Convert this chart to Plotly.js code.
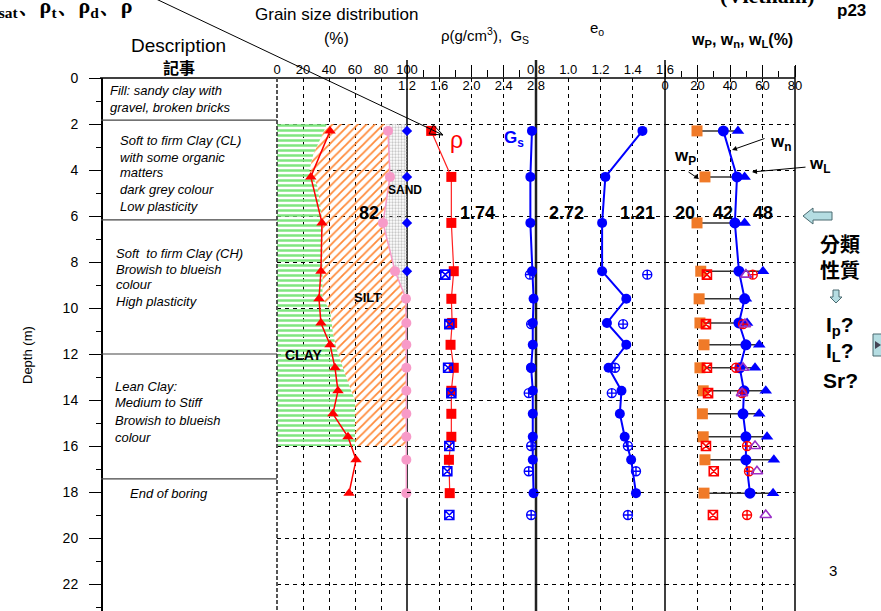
<!DOCTYPE html>
<html><head><meta charset="utf-8">
<script src="https://cdn.plot.ly/plotly-3.0.1.min.js"></script>
<style>html,body{margin:0;padding:0;background:#fff}#chart{width:881px;height:611px}</style>
</head><body><div id="chart"></div>
<script>
const W = 881, H = 611;
const F = 'Arial, "Liberation Sans", sans-serif';
const FS = '"Liberation Serif", "Times New Roman", serif';
const FCJK = '"Noto Sans CJK TC", "Noto Sans CJK JP", sans-serif';

// ---------- data ----------
const depth    = [2.3, 4.3, 6.3, 8.4, 9.6, 10.65, 11.6, 12.6, 13.6, 14.6, 15.6, 16.6, 18.05];
const clayPct  = [40.8, 26, 34.6, 33.8, 32.3, 33.8, 40.8, 44.6, 46.9, 43, 54.6, 60.8, 55.4];
const finesPct = [85.4, 86.9, 81.5, 90.8, 99.2, 99.5, 99.5, 99.5, 99.5, 99.5, 99.5, 99.5, 99.5];
const totalDepth = [2.3, 4.3, 6.3, 8.4];
const totalPct   = [100, 100, 100, 100];
const rho = [1.50, 1.75, 1.75, 1.78, 1.75, 1.76, 1.74, 1.78, 1.75, 1.75, 1.75, 1.72, 1.73];
const gs  = [2.75, 2.73, 2.73, 2.75, 2.77, 2.76, 2.76, 2.74, 2.76, 2.76, 2.76, 2.76, 2.77];
const e0  = [1.46, 1.23, 1.21, 1.21, 1.36, 1.24, 1.36, 1.25, 1.33, 1.32, 1.35, 1.39, 1.42];
const wP  = [19.7, 24.6, 19.7, 22, 21, 21.5, 24, 21.5, 23.5, 23, 23.5, 24.6, 24];
const wn  = [35.9, 44.3, 43, 45.5, 49, 45.5, 49.8, 46, 48.6, 48, 49.8, 49.8, 52.3];
const wL  = [44.9, 49, 49, 60.3, 49.8, 50.5, 58, 55.4, 62, 58, 62.8, 67, 66.5];

const labDepth = [8.55, 10.7, 12.6, 13.7, 16.0, 17.1, 19.0];
const rhoLab = [1.675, 1.725, 1.71, 1.75, 1.725, 1.70, 1.725];
const gsLab  = [2.725, 2.74, 2.74, 2.71, 2.74, 2.71, 2.74];
const eLab   = [1.49, 1.34, 1.29, 1.27, 1.37, 1.42, 1.37];
const wPLab  = [25.8, 25.2, 25.8, 26.5, 25.2, 30, 29.5];
const wnLab  = [54, 48, 43.7, 47.4, 50.5, 51.7, 50.5];
const wLLab  = [49.8, 49.2, 48, 47.4, 55.4, 56.6, 62];

// soil zones in grain-size panel
const clayZoneDepth = [2.0, 2.7, 3.3, 4.0, 4.7, 5.4, 6.3, 9.6, 10.1, 11.1, 11.8, 12.8, 13.6, 14.0, 16.0];
const clayZonePct   = [38.5, 33, 28, 25, 31, 33, 35, 35, 41, 43, 46, 52, 57, 60, 60];
const siltZoneDepth = [2.0, 2.3, 4.3, 6.3, 8.4, 9.6, 16.0];
const siltZonePct   = [84, 85.4, 86.9, 81.5, 90.8, 100, 100];
const zoneTop = 2.0, zoneBottom = 16.0;
const layerBounds = [1.83, 6.17, 12.0, 17.43];

// tick labels
const grainTicks = [0, 20, 40, 60, 80, 100];
const rhoTicks = [1.2, 1.6, 2.0, 2.4, 2.8];
const rhoTickText = ['1.2', '1.6', '2.0', '2.4', '2.8'];
const rhoMinor = [1.4, 1.8, 2.2, 2.6];
const eTicks = [0.8, 1.0, 1.2, 1.4, 1.6];
const eTickText = ['0.8', '1.0', '1.2', '1.4', '1.6'];
const wTicks = [0, 20, 40, 60, 80];
const wMinor = [10, 30, 50, 70];

const descLines = [
  [108, 90, 'Fill: sandy clay with'], [108, 107, 'gravel, broken bricks'],
  [118, 140, 'Soft to firm Clay (CL)'], [118, 157, 'with some organic'], [118, 173, 'matters'],
  [118, 190, 'dark grey colour'], [118, 207, 'Low plasticity'],
  [114, 253, 'Soft  to firm Clay (CH)'], [114, 269, 'Browish to blueish'], [114, 285, 'colour'], [114, 302, 'High plasticity'],
  [113, 386, 'Lean Clay:'], [113, 403, 'Medium to Stiff'], [113, 420, 'Browish to blueish'], [113, 437, 'colour'],
  [128, 493, 'End of boring']
];

// ---------- helpers ----------
const px = x => x / W, py = y => 1 - y / H;
const P = (x, y) => px(x) + ',' + py(y);
function ann(x, y, text, o) {
  return Object.assign({xref: 'paper', yref: 'paper', x: px(x), y: py(y), text: text, showarrow: false,
    xanchor: 'center', yanchor: 'middle', font: {family: F, size: 13, color: '#000'}}, o || {});
}
function arrowAnn(tx, ty, hx, hy) {
  return {xref: 'paper', yref: 'paper', x: px(hx), y: py(hy), ax: tx - hx, ay: ty - hy, text: '',
    showarrow: true, arrowhead: 2, arrowsize: 1, arrowwidth: 1, arrowcolor: '#000'};
}

// ---------- traces ----------
const greenX = [0].concat(clayZonePct, [0]);
const greenY = [zoneTop].concat(clayZoneDepth, [zoneBottom]);
const orangeX = clayZonePct.concat(siltZonePct.slice().reverse());
const orangeY = clayZoneDepth.concat(siltZoneDepth.slice().reverse());
const grayX = siltZonePct.concat([100, 100]);
const grayY = siltZoneDepth.concat([zoneBottom, zoneTop]);

const connX = [], connY = [];
depth.forEach((d, i) => { connX.push(wP[i], wL[i], null); connY.push(d, d, null); });

const traces = [
  {type: 'scatter', x: greenX, y: greenY, xaxis: 'x', yaxis: 'y', mode: 'none', fill: 'toself',
   fillcolor: 'rgba(0,0,0,0)', fillpattern: {shape: '-', fgcolor: '#7fe67f', size: 5, solidity: 0.5}},
  {type: 'scatter', x: orangeX, y: orangeY, xaxis: 'x', yaxis: 'y', mode: 'none', fill: 'toself',
   fillcolor: 'rgba(0,0,0,0)', fillpattern: {shape: '/', fgcolor: '#ff8a3a', size: 6, solidity: 0.3}},
  {type: 'scatter', x: grayX, y: grayY, xaxis: 'x', yaxis: 'y', mode: 'none', fill: 'toself',
   fillcolor: 'rgba(0,0,0,0)', fillpattern: {shape: '.', fgcolor: '#c8c8c8', size: 3, solidity: 0.45}},
  {type: 'scatter', x: finesPct, y: depth, xaxis: 'x', yaxis: 'y', mode: 'lines+markers', cliponaxis: false,
   line: {color: '#f79ac8', width: 1.5}, marker: {color: '#f79ac8', size: 10, symbol: 'circle'}},
  {type: 'scatter', x: clayPct, y: depth, xaxis: 'x', yaxis: 'y', mode: 'lines+markers',
   line: {color: '#ff0000', width: 1.5}, marker: {color: '#ff0000', size: 10, symbol: 'triangle-up'}},
  {type: 'scatter', x: totalPct, y: totalDepth, xaxis: 'x', yaxis: 'y', mode: 'markers', cliponaxis: false,
   marker: {color: '#0000ff', size: 8, symbol: 'diamond'}},
  {type: 'scatter', x: rho, y: depth, xaxis: 'x2', yaxis: 'y', mode: 'lines+markers',
   line: {color: '#ff2020', width: 1.2}, marker: {color: '#ff0000', size: 10, symbol: 'square'}},
  {type: 'scatter', x: gs, y: depth, xaxis: 'x2', yaxis: 'y', mode: 'lines+markers', cliponaxis: false,
   line: {color: '#0000ff', width: 2}, marker: {color: '#0000ff', size: 10, symbol: 'circle'}},
  {type: 'scatter', x: e0, y: depth, xaxis: 'x3', yaxis: 'y', mode: 'lines+markers',
   line: {color: '#0000ff', width: 2}, marker: {color: '#0000ff', size: 10, symbol: 'circle'}},
  {type: 'scatter', x: connX, y: connY, xaxis: 'x4', yaxis: 'y', mode: 'lines',
   line: {color: '#333', width: 1.5}},
  {type: 'scatter', x: wP, y: depth, xaxis: 'x4', yaxis: 'y', mode: 'markers',
   marker: {color: '#f07a28', size: 11, symbol: 'square'}},
  {type: 'scatter', x: wn, y: depth, xaxis: 'x4', yaxis: 'y', mode: 'lines+markers',
   line: {color: '#0000ff', width: 2}, marker: {color: '#0000ff', size: 11, symbol: 'circle'}},
  {type: 'scatter', x: wL, y: depth, xaxis: 'x4', yaxis: 'y', mode: 'markers',
   marker: {color: '#0000ff', size: 11, symbol: 'triangle-up'}},
  {type: 'scatter', x: rhoLab, y: labDepth, xaxis: 'x2', yaxis: 'y', mode: 'markers',
   marker: {color: '#0000ff', size: 9, symbol: 'square-x-open', line: {width: 1.6}}},
  {type: 'scatter', x: gsLab, y: labDepth, xaxis: 'x2', yaxis: 'y', mode: 'markers', cliponaxis: false,
   marker: {color: '#0000ff', size: 9, symbol: 'circle-cross-open', line: {width: 1.4}}},
  {type: 'scatter', x: eLab, y: labDepth, xaxis: 'x3', yaxis: 'y', mode: 'markers',
   marker: {color: '#0000ff', size: 9, symbol: 'circle-cross-open', line: {width: 1.4}}},
  {type: 'scatter', x: wPLab, y: labDepth, xaxis: 'x4', yaxis: 'y', mode: 'markers',
   marker: {color: '#ff0000', size: 9, symbol: 'square-x-open', line: {width: 1.6}}},
  {type: 'scatter', x: wnLab, y: labDepth, xaxis: 'x4', yaxis: 'y', mode: 'markers',
   marker: {color: '#ff0000', size: 9, symbol: 'circle-cross-open', line: {width: 1.4}}},
  {type: 'scatter', x: wLLab, y: labDepth, xaxis: 'x4', yaxis: 'y', mode: 'markers',
   marker: {color: '#9b30c8', size: 10, symbol: 'triangle-up-open', line: {width: 1.6}}}
];

// ---------- layout ----------
const gridDash = '4px,4px';
const tf = {family: F, size: 13, color: '#000'};
const common = {anchor: 'y', side: 'top', showline: false, zeroline: false, showgrid: true,
  gridcolor: '#000', gridwidth: 1, griddash: gridDash, tickfont: tf, automargin: false, fixedrange: true};
const yTop = 78, yBottomDepth = (H - yTop) / 23;

const layout = {
  width: W, height: H, margin: {l: 0, r: 0, t: 0, b: 0},
  paper_bgcolor: '#fff', plot_bgcolor: '#fff', showlegend: false, hovermode: false,
  xaxis: Object.assign({}, common, {domain: [277 / W, 407 / W], range: [0, 100], tickvals: grainTicks, ticks: ''}),
  xaxis2: Object.assign({}, common, {domain: [407 / W, 536 / W], range: [1.2, 2.8], tickvals: rhoTicks, ticktext: rhoTickText,
    ticks: 'outside', ticklen: 12, tickcolor: '#000', tickwidth: 1, ticklabelposition: 'inside', ticklabeloverflow: 'allow',
    minor: {tickvals: rhoMinor, ticks: 'outside', ticklen: 7, tickcolor: '#000', showgrid: false}}),
  xaxis3: Object.assign({}, common, {domain: [536 / W, 665 / W], range: [0.8, 1.6], tickvals: eTicks, ticktext: eTickText, ticks: ''}),
  xaxis4: Object.assign({}, common, {domain: [665 / W, 795 / W], range: [0, 80], tickvals: wTicks,
    ticks: 'outside', ticklen: 12, tickcolor: '#000', tickwidth: 1, ticklabelposition: 'inside', ticklabeloverflow: 'allow',
    minor: {tickvals: wMinor, ticks: 'outside', ticklen: 6, tickcolor: '#000', showgrid: false}}),
  yaxis: {domain: [0, 1 - yTop / H], range: [yBottomDepth, 0], anchor: 'free', position: 101 / W,
    showline: true, linecolor: '#000', linewidth: 1.5, ticks: 'outside', ticklen: 12, tickcolor: '#000',
    tick0: 0, dtick: 2, ticklabelstandoff: 8, tickfont: {family: F, size: 14, color: '#000'},
    minor: {dtick: 1, ticks: 'outside', ticklen: 5, tickcolor: '#000'},
    showgrid: true, gridcolor: '#000', gridwidth: 1, griddash: gridDash, zeroline: false, automargin: false, fixedrange: true},
  shapes: [],
  annotations: []
};

const S = layout.shapes;
// top line
S.push({type: 'line', xref: 'paper', yref: 'paper', x0: px(100), x1: px(795), y0: py(yTop), y1: py(yTop), line: {color: '#000', width: 1.5}});
// description right border (dashed grey)
S.push({type: 'line', xref: 'paper', yref: 'paper', x0: px(277), x1: px(277), y0: py(yTop), y1: 0, line: {color: '#555', width: 2, dash: '4px,2px'}});
// layer separators
layerBounds.forEach(d => S.push({type: 'line', xref: 'paper', yref: 'y', x0: px(101), x1: px(277), y0: d, y1: d, line: {color: '#444', width: 1.2}}));
// panel separators: in-plot part (between grid and traces) and stub above top
[[407, 1.5, '#000'], [536, 2.5, '#222'], [665, 1.5, '#000'], [795, 1.5, '#000']].forEach(([x, w, c]) => {
  const top = (x === 795) ? 66 : 60;
  S.push({type: 'line', xref: 'paper', yref: 'paper', x0: px(x), x1: px(x), y0: py(top), y1: py(yTop), line: {color: c, width: w}});
  S.push({type: 'line', xref: 'paper', yref: 'paper', x0: px(x), x1: px(x), y0: py(yTop), y1: 0, line: {color: c, width: w}, layer: 'between'});
});
// long pointer line + open arrowhead
(function () {
  const tx = 443, ty = 135, sx = 154, sy = -2;
  S.push({type: 'line', xref: 'paper', yref: 'paper', x0: px(sx), y0: py(sy), x1: px(tx), y1: py(ty), line: {color: '#000', width: 1}});
  const dx = tx - sx, dy = ty - sy, L = Math.hypot(dx, dy), ux = dx / L, uy = dy / L, nx = -uy, ny = ux;
  const bx = tx - 13 * ux, by = ty - 13 * uy;
  S.push({type: 'path', xref: 'paper', yref: 'paper',
    path: 'M' + P(bx + 5 * nx, by + 5 * ny) + ' L' + P(tx, ty) + ' L' + P(bx - 5 * nx, by - 5 * ny) + ' Z',
    line: {color: '#000', width: 1}, fillcolor: 'rgba(0,0,0,0)'});
})();
// teal block arrow (left)
S.push({type: 'path', xref: 'paper', yref: 'paper',
  path: 'M' + P(803, 216) + ' L' + P(813, 208) + ' L' + P(813, 212) + ' L' + P(832, 212) + ' L' + P(832, 220) + ' L' + P(813, 220) + ' L' + P(813, 224) + ' Z',
  fillcolor: '#b5dde2', line: {color: '#4a6a70', width: 1}});
// small down arrow
S.push({type: 'path', xref: 'paper', yref: 'paper',
  path: 'M' + P(833, 290) + ' L' + P(839, 290) + ' L' + P(839, 297) + ' L' + P(842, 297) + ' L' + P(836, 303) + ' L' + P(830, 297) + ' L' + P(833, 297) + ' Z',
  fillcolor: '#b5dde2', line: {color: '#4a6a70', width: 1}});
// box at right edge
S.push({type: 'rect', xref: 'paper', yref: 'paper', x0: px(873), x1: px(886), y0: py(334), y1: py(356), fillcolor: '#b5dde2', line: {color: '#4a6a70', width: 1}});
S.push({type: 'path', xref: 'paper', yref: 'paper', path: 'M' + P(875, 341) + ' L' + P(881, 345) + ' L' + P(875, 349) + ' Z', fillcolor: '#445', line: {width: 0}});

const A = layout.annotations;
// headers
A.push(ann(-15, 7, '<b>ρ<sub>sat</sub>、ρ<sub>t</sub>、ρ<sub>d</sub>、ρ</b>', {xanchor: 'left', font: {family: FS, size: 22, color: '#000'}}));
A.push(ann(767, -5, '<b>(Vietnam)</b>', {font: {family: FS, size: 22, color: '#000'}}));
A.push(ann(851, 11, '<b>p23</b>', {font: {family: F, size: 17, color: '#000'}}));
A.push(ann(336, 15, 'Grain size distribution', {font: {family: F, size: 17, color: '#000'}}));
A.push(ann(336, 38, '(%)', {font: {family: F, size: 16, color: '#000'}}));
A.push(ann(485, 36, 'ρ(g/cm<sup>3</sup>),  G<sub>S</sub>', {font: {family: F, size: 15, color: '#000'}}));
A.push(ann(597, 28, 'e<sub>o</sub>', {font: {family: F, size: 15, color: '#000'}}));
A.push(ann(742, 40, '<b>w<sub>P</sub>, w<sub>n</sub>, w<sub>L</sub>(%)</b>', {font: {family: F, size: 16, color: '#000'}}));
A.push(ann(178, 45, 'Description', {font: {family: F, size: 19, color: '#000'}}));
A.push(ann(179, 67, '<b>記事</b>', {font: {family: FCJK, size: 16, color: '#000'}}));
A.push(ann(27, 355, 'Depth (m)', {textangle: -90, font: {family: F, size: 13, color: '#000'}}));
// description text
descLines.forEach(([x, y, t]) => A.push(ann(x, y, '<i>' + t + '</i>', {xanchor: 'left', font: {family: F, size: 13, color: '#000'}})));
// panel labels
A.push(ann(405, 190, '<b>SAND</b>', {font: {family: F, size: 12, color: '#000'}}));
A.push(ann(367, 297, '<b>SILT</b>', {font: {family: F, size: 13, color: '#000'}}));
A.push(ann(303, 355, '<b>CLAY</b>', {font: {family: F, size: 14, color: '#000'}}));
A.push(ann(456, 140, 'ρ', {font: {family: F, size: 23, color: '#ff0000'}}));
A.push(ann(514, 139, '<b>G<sub>s</sub></b>', {font: {family: F, size: 17, color: '#0000ff'}}));
[[369, '82'], [477, '1.74'], [566, '2.72'], [637, '1.21'], [685, '20'], [723, '42'], [763, '48']].forEach(([x, t]) =>
  A.push(ann(x, 213, '<b>' + t + '</b>', {font: {family: F, size: 18, color: '#000'}})));
A.push(ann(781, 143, '<b>w<sub>n</sub></b>', {font: {family: F, size: 17, color: '#000'}}));
A.push(ann(820, 165, '<b>w<sub>L</sub></b>', {font: {family: F, size: 17, color: '#000'}}));
A.push(ann(685, 157, '<b>w<sub>P</sub></b>', {font: {family: F, size: 17, color: '#000'}}));
A.push(arrowAnn(766, 138, 732, 150));
A.push(arrowAnn(807, 167, 752, 172));
A.push(arrowAnn(687, 171, 699, 179));
// right side
A.push(ann(840, 256, '<b>分類<br>性質</b>', {font: {family: FCJK, size: 20, color: '#000'}}));
A.push(ann(840, 326, '<b>I<sub>p</sub>?</b>', {font: {family: F, size: 21, color: '#000'}}));
A.push(ann(840, 352, '<b>I<sub>L</sub>?</b>', {font: {family: F, size: 21, color: '#000'}}));
A.push(ann(840, 380, '<b>Sr?</b>', {font: {family: F, size: 21, color: '#000'}}));
A.push(ann(833, 570, '3', {font: {family: F, size: 15, color: '#000'}}));

Plotly.newPlot('chart', traces, layout, {staticPlot: true, displayModeBar: false});
</script></body></html>
